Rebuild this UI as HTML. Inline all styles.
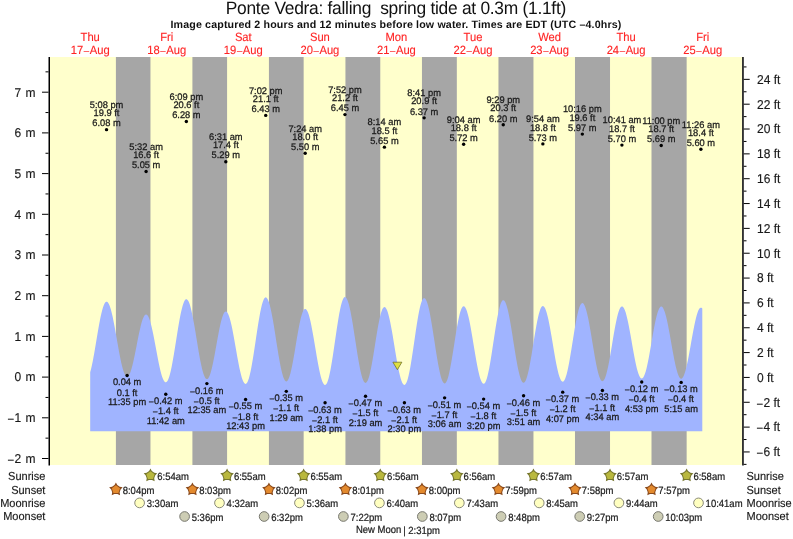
<!DOCTYPE html><html><head><meta charset="utf-8"><title>Ponte Vedra tide chart</title><style>html,body{margin:0;padding:0;background:#fff;width:793px;height:539px;overflow:hidden}svg{display:block;will-change:transform}</style></head><body><svg width="793" height="539" viewBox="0 0 793 539" font-family="'Liberation Sans', Arial, sans-serif" text-rendering="geometricPrecision"><rect x="0" y="0" width="793" height="539" fill="#fff"/><rect x="50" y="57" width="692" height="408" fill="#ffffcc"/><rect x="115.90" y="57" width="34.56" height="408" fill="#a6a6a6"/><rect x="192.41" y="57" width="34.67" height="408" fill="#a6a6a6"/><rect x="268.93" y="57" width="34.72" height="408" fill="#a6a6a6"/><rect x="345.44" y="57" width="34.83" height="408" fill="#a6a6a6"/><rect x="421.95" y="57" width="34.88" height="408" fill="#a6a6a6"/><rect x="498.47" y="57" width="34.99" height="408" fill="#a6a6a6"/><rect x="574.98" y="57" width="35.04" height="408" fill="#a6a6a6"/><rect x="651.50" y="57" width="35.15" height="408" fill="#a6a6a6"/><path d="M90.20,431.30 L90.20,372.31 L91.00,369.29 L91.80,365.83 L92.59,362.00 L93.39,357.84 L94.19,353.41 L94.99,348.80 L95.79,344.06 L96.58,339.27 L97.38,334.50 L98.18,329.82 L98.98,325.31 L99.78,321.02 L100.57,317.04 L101.37,313.41 L102.17,310.20 L102.97,307.44 L103.77,305.19 L104.56,303.47 L105.36,302.32 L106.16,301.74 L106.96,301.75 L107.76,302.32 L108.56,303.43 L109.35,305.08 L110.15,307.22 L110.95,309.85 L111.75,312.90 L112.55,316.35 L113.34,320.13 L114.14,324.19 L114.94,328.48 L115.74,332.92 L116.54,337.46 L117.33,342.02 L118.13,346.54 L118.93,350.95 L119.73,355.18 L120.53,359.18 L121.32,362.88 L122.12,366.22 L122.92,369.17 L123.72,371.67 L124.52,373.69 L125.31,375.19 L126.11,376.16 L126.91,376.58 L127.71,376.46 L128.51,375.79 L129.30,374.59 L130.10,372.89 L130.90,370.71 L131.70,368.09 L132.50,365.08 L133.29,361.73 L134.09,358.10 L134.89,354.25 L135.69,350.24 L136.49,346.16 L137.28,342.06 L138.08,338.02 L138.88,334.12 L139.68,330.41 L140.48,326.97 L141.27,323.85 L142.07,321.10 L142.87,318.79 L143.67,316.93 L144.47,315.58 L145.27,314.75 L146.06,314.45 L146.86,314.70 L147.66,315.50 L148.46,316.83 L149.26,318.67 L150.05,320.99 L150.85,323.76 L151.65,326.92 L152.45,330.44 L153.25,334.24 L154.04,338.28 L154.84,342.48 L155.64,346.77 L156.44,351.09 L157.24,355.37 L158.03,359.53 L158.83,363.51 L159.63,367.25 L160.43,370.68 L161.23,373.75 L162.02,376.41 L162.82,378.61 L163.62,380.32 L164.42,381.52 L165.22,382.18 L166.01,382.28 L166.81,381.79 L167.61,380.69 L168.41,378.99 L169.21,376.73 L170.00,373.94 L170.80,370.65 L171.60,366.92 L172.40,362.80 L173.20,358.36 L173.99,353.65 L174.79,348.76 L175.59,343.74 L176.39,338.68 L177.19,333.65 L177.98,328.73 L178.78,323.98 L179.58,319.49 L180.38,315.30 L181.18,311.50 L181.98,308.13 L182.77,305.24 L183.57,302.88 L184.37,301.08 L185.17,299.87 L185.97,299.27 L186.76,299.27 L187.56,299.88 L188.36,301.07 L189.16,302.82 L189.96,305.12 L190.75,307.93 L191.55,311.19 L192.35,314.88 L193.15,318.93 L193.95,323.28 L194.74,327.86 L195.54,332.62 L196.34,337.47 L197.14,342.34 L197.94,347.17 L198.73,351.88 L199.53,356.40 L200.33,360.66 L201.13,364.60 L201.93,368.16 L202.72,371.29 L203.52,373.94 L204.32,376.07 L205.12,377.65 L205.92,378.66 L206.71,379.07 L207.51,378.90 L208.31,378.13 L209.11,376.79 L209.91,374.90 L210.70,372.48 L211.50,369.60 L212.30,366.28 L213.10,362.60 L213.90,358.61 L214.69,354.40 L215.49,350.02 L216.29,345.55 L217.09,341.09 L217.89,336.69 L218.69,332.45 L219.48,328.43 L220.28,324.71 L221.08,321.35 L221.88,318.40 L222.68,315.93 L223.47,313.97 L224.27,312.56 L225.07,311.73 L225.87,311.48 L226.67,311.81 L227.46,312.73 L228.26,314.20 L229.06,316.21 L229.86,318.73 L230.66,321.71 L231.45,325.10 L232.25,328.86 L233.05,332.93 L233.85,337.23 L234.65,341.69 L235.44,346.26 L236.24,350.85 L237.04,355.38 L237.84,359.80 L238.64,364.02 L239.43,367.97 L240.23,371.60 L241.03,374.85 L241.83,377.67 L242.63,380.00 L243.42,381.81 L244.22,383.08 L245.02,383.78 L245.82,383.89 L246.62,383.36 L247.41,382.17 L248.21,380.34 L249.01,377.89 L249.81,374.87 L250.61,371.32 L251.40,367.29 L252.20,362.85 L253.00,358.07 L253.80,353.02 L254.60,347.77 L255.40,342.42 L256.19,337.04 L256.99,331.71 L257.79,326.52 L258.59,321.55 L259.39,316.88 L260.18,312.57 L260.98,308.69 L261.78,305.31 L262.58,302.48 L263.38,300.23 L264.17,298.61 L264.97,297.64 L265.77,297.33 L266.57,297.67 L267.37,298.63 L268.16,300.19 L268.96,302.33 L269.76,305.02 L270.56,308.22 L271.36,311.88 L272.15,315.95 L272.95,320.37 L273.75,325.07 L274.55,329.98 L275.35,335.04 L276.14,340.15 L276.94,345.26 L277.74,350.27 L278.54,355.13 L279.34,359.75 L280.13,364.07 L280.93,368.03 L281.73,371.56 L282.53,374.61 L283.33,377.14 L284.12,379.11 L284.92,380.50 L285.72,381.27 L286.52,381.42 L287.32,380.94 L288.11,379.82 L288.91,378.10 L289.71,375.79 L290.51,372.95 L291.31,369.62 L292.11,365.85 L292.90,361.72 L293.70,357.30 L294.50,352.67 L295.30,347.90 L296.10,343.08 L296.89,338.30 L297.69,333.64 L298.49,329.19 L299.29,325.01 L300.09,321.19 L300.88,317.80 L301.68,314.88 L302.48,312.50 L303.28,310.69 L304.08,309.49 L304.87,308.92 L305.67,308.98 L306.47,309.64 L307.27,310.90 L308.07,312.73 L308.86,315.10 L309.66,317.97 L310.46,321.31 L311.26,325.04 L312.06,329.13 L312.85,333.50 L313.65,338.08 L314.45,342.80 L315.25,347.59 L316.05,352.36 L316.84,357.05 L317.64,361.58 L318.44,365.87 L319.24,369.86 L320.04,373.49 L320.83,376.70 L321.63,379.43 L322.43,381.64 L323.23,383.31 L324.03,384.39 L324.83,384.89 L325.62,384.75 L326.42,383.93 L327.22,382.42 L328.02,380.26 L328.82,377.47 L329.61,374.11 L330.41,370.22 L331.21,365.86 L332.01,361.11 L332.81,356.05 L333.60,350.74 L334.40,345.28 L335.20,339.75 L336.00,334.24 L336.80,328.84 L337.59,323.63 L338.39,318.69 L339.19,314.11 L339.99,309.96 L340.79,306.30 L341.58,303.19 L342.38,300.68 L343.18,298.81 L343.98,297.61 L344.78,297.10 L345.57,297.27 L346.37,298.08 L347.17,299.50 L347.97,301.53 L348.77,304.12 L349.56,307.25 L350.36,310.86 L351.16,314.91 L351.96,319.33 L352.76,324.05 L353.55,329.02 L354.35,334.14 L355.15,339.35 L355.95,344.57 L356.75,349.73 L357.54,354.73 L358.34,359.53 L359.14,364.03 L359.94,368.17 L360.74,371.90 L361.54,375.16 L362.33,377.89 L363.13,380.06 L363.93,381.64 L364.73,382.60 L365.53,382.93 L366.32,382.61 L367.12,381.62 L367.92,379.99 L368.72,377.74 L369.52,374.92 L370.31,371.57 L371.11,367.74 L371.91,363.52 L372.71,358.97 L373.51,354.18 L374.30,349.22 L375.10,344.19 L375.90,339.17 L376.70,334.25 L377.50,329.52 L378.29,325.06 L379.09,320.96 L379.89,317.28 L380.69,314.08 L381.49,311.43 L382.28,309.37 L383.08,307.94 L383.88,307.16 L384.68,307.04 L385.48,307.55 L386.27,308.66 L387.07,310.35 L387.87,312.61 L388.67,315.39 L389.47,318.65 L390.26,322.34 L391.06,326.40 L391.86,330.76 L392.66,335.37 L393.46,340.14 L394.25,345.00 L395.05,349.88 L395.85,354.70 L396.65,359.38 L397.45,363.84 L398.25,368.03 L399.04,371.87 L399.84,375.31 L400.64,378.28 L401.44,380.75 L402.24,382.67 L403.03,384.01 L403.83,384.76 L404.63,384.89 L405.43,384.34 L406.23,383.11 L407.02,381.20 L407.82,378.66 L408.62,375.51 L409.42,371.81 L410.22,367.63 L411.01,363.03 L411.81,358.07 L412.61,352.85 L413.41,347.45 L414.21,341.95 L415.00,336.44 L415.80,331.02 L416.60,325.76 L417.40,320.76 L418.20,316.09 L418.99,311.83 L419.79,308.05 L420.59,304.81 L421.39,302.16 L422.19,300.15 L422.98,298.80 L423.78,298.15 L424.58,298.18 L425.38,298.85 L426.18,300.15 L426.97,302.07 L427.77,304.56 L428.57,307.59 L429.37,311.12 L430.17,315.09 L430.96,319.45 L431.76,324.13 L432.56,329.05 L433.36,334.16 L434.16,339.36 L434.96,344.58 L435.75,349.74 L436.55,354.77 L437.35,359.59 L438.15,364.13 L438.95,368.31 L439.74,372.09 L440.54,375.39 L441.34,378.18 L442.14,380.40 L442.94,382.03 L443.73,383.05 L444.53,383.42 L445.33,383.15 L446.13,382.21 L446.93,380.63 L447.72,378.42 L448.52,375.63 L449.32,372.31 L450.12,368.51 L450.92,364.30 L451.71,359.75 L452.51,354.94 L453.31,349.96 L454.11,344.88 L454.91,339.81 L455.70,334.82 L456.50,330.00 L457.30,325.44 L458.10,321.21 L458.90,317.40 L459.69,314.05 L460.49,311.24 L461.29,309.01 L462.09,307.40 L462.89,306.44 L463.68,306.14 L464.48,306.48 L465.28,307.42 L466.08,308.95 L466.88,311.05 L467.67,313.68 L468.47,316.80 L469.27,320.37 L470.07,324.32 L470.87,328.59 L471.67,333.13 L472.46,337.84 L473.26,342.67 L474.06,347.54 L474.86,352.37 L475.66,357.08 L476.45,361.60 L477.25,365.85 L478.05,369.78 L478.85,373.32 L479.65,376.42 L480.44,379.02 L481.24,381.09 L482.04,382.59 L482.84,383.50 L483.64,383.80 L484.43,383.46 L485.23,382.44 L486.03,380.76 L486.83,378.45 L487.63,375.54 L488.42,372.09 L489.22,368.15 L490.02,363.78 L490.82,359.06 L491.62,354.05 L492.41,348.85 L493.21,343.54 L494.01,338.21 L494.81,332.93 L495.61,327.80 L496.40,322.91 L497.20,318.32 L498.00,314.13 L498.80,310.38 L499.60,307.15 L500.39,304.49 L501.19,302.44 L501.99,301.04 L502.79,300.30 L503.59,300.24 L504.39,300.82 L505.18,302.01 L505.98,303.81 L506.78,306.17 L507.58,309.08 L508.38,312.48 L509.17,316.32 L509.97,320.55 L510.77,325.09 L511.57,329.88 L512.37,334.85 L513.16,339.92 L513.96,345.02 L514.76,350.06 L515.56,354.97 L516.36,359.67 L517.15,364.10 L517.95,368.19 L518.75,371.87 L519.55,375.08 L520.35,377.79 L521.14,379.94 L521.94,381.51 L522.74,382.47 L523.54,382.81 L524.34,382.51 L525.13,381.56 L525.93,379.99 L526.73,377.83 L527.53,375.09 L528.33,371.85 L529.12,368.14 L529.92,364.03 L530.72,359.58 L531.52,354.89 L532.32,350.02 L533.11,345.05 L533.91,340.07 L534.71,335.17 L535.51,330.42 L536.31,325.90 L537.10,321.70 L537.90,317.88 L538.70,314.51 L539.50,311.64 L540.30,309.33 L541.10,307.60 L541.89,306.50 L542.69,306.03 L543.49,306.20 L544.29,306.97 L545.09,308.33 L545.88,310.25 L546.68,312.71 L547.48,315.67 L548.28,319.08 L549.08,322.88 L549.87,327.02 L550.67,331.43 L551.47,336.03 L552.27,340.76 L553.07,345.54 L553.86,350.30 L554.66,354.94 L555.46,359.42 L556.26,363.64 L557.06,367.55 L557.85,371.08 L558.65,374.17 L559.45,376.79 L560.25,378.87 L561.05,380.40 L561.84,381.34 L562.64,381.69 L563.44,381.41 L564.24,380.50 L565.04,378.97 L565.83,376.84 L566.63,374.15 L567.43,370.94 L568.23,367.26 L569.03,363.18 L569.82,358.76 L570.62,354.07 L571.42,349.19 L572.22,344.20 L573.02,339.18 L573.81,334.21 L574.61,329.37 L575.41,324.75 L576.21,320.41 L577.01,316.43 L577.81,312.88 L578.60,309.80 L579.40,307.26 L580.20,305.29 L581.00,303.92 L581.80,303.18 L582.59,303.07 L583.39,303.59 L584.19,304.69 L584.99,306.39 L585.79,308.63 L586.58,311.40 L587.38,314.64 L588.18,318.31 L588.98,322.35 L589.78,326.70 L590.57,331.29 L591.37,336.04 L592.17,340.89 L592.97,345.76 L593.77,350.58 L594.56,355.26 L595.36,359.73 L596.16,363.94 L596.96,367.80 L597.76,371.26 L598.55,374.28 L599.35,376.79 L600.15,378.76 L600.95,380.17 L601.75,380.98 L602.54,381.19 L603.34,380.78 L604.14,379.77 L604.94,378.16 L605.74,375.99 L606.53,373.28 L607.33,370.09 L608.13,366.47 L608.93,362.47 L609.73,358.16 L610.52,353.62 L611.32,348.91 L612.12,344.13 L612.92,339.33 L613.72,334.61 L614.52,330.04 L615.31,325.70 L616.11,321.65 L616.91,317.97 L617.71,314.72 L618.51,311.94 L619.30,309.69 L620.10,308.00 L620.90,306.91 L621.70,306.42 L622.50,306.53 L623.29,307.23 L624.09,308.49 L624.89,310.30 L625.69,312.62 L626.49,315.42 L627.28,318.66 L628.08,322.28 L628.88,326.22 L629.68,330.42 L630.48,334.82 L631.27,339.34 L632.07,343.91 L632.87,348.46 L633.67,352.92 L634.47,357.20 L635.26,361.25 L636.06,365.00 L636.86,368.39 L637.66,371.36 L638.46,373.87 L639.25,375.87 L640.05,377.34 L640.85,378.25 L641.65,378.59 L642.45,378.34 L643.24,377.50 L644.04,376.08 L644.84,374.12 L645.64,371.63 L646.44,368.66 L647.23,365.26 L648.03,361.49 L648.83,357.41 L649.63,353.08 L650.43,348.57 L651.23,343.97 L652.02,339.35 L652.82,334.77 L653.62,330.33 L654.42,326.09 L655.22,322.12 L656.01,318.48 L656.81,315.24 L657.61,312.45 L658.41,310.16 L659.21,308.40 L660.00,307.21 L660.80,306.60 L661.60,306.57 L662.40,307.12 L663.20,308.24 L663.99,309.89 L664.79,312.06 L665.59,314.71 L666.39,317.80 L667.19,321.29 L667.98,325.11 L668.78,329.21 L669.58,333.52 L670.38,337.97 L671.18,342.49 L671.97,347.02 L672.77,351.48 L673.57,355.80 L674.37,359.91 L675.17,363.75 L675.96,367.25 L676.76,370.36 L677.56,373.04 L678.36,375.24 L679.16,376.92 L679.95,378.06 L680.75,378.64 L681.55,378.65 L682.35,378.08 L683.15,376.96 L683.94,375.29 L684.74,373.10 L685.54,370.43 L686.34,367.32 L687.14,363.82 L687.94,359.99 L688.73,355.88 L689.53,351.57 L690.33,347.13 L691.13,342.62 L691.93,338.12 L692.72,333.70 L693.52,329.44 L694.32,325.39 L695.12,321.63 L695.92,318.22 L696.71,315.22 L697.51,312.66 L698.31,310.60 L699.11,309.06 L699.91,308.07 L700.70,307.65 L701.50,307.79 L702.30,308.50 L702.30,431.30 Z" fill="#a0b4ff"/><rect x="48.5" y="57" width="1.5" height="408.5" fill="#000"/><rect x="742.2" y="57" width="1.5" height="408.5" fill="#000"/><path d="M42.0,458.50H48.5M45.5,438.15H48.5M42.0,417.80H48.5M45.5,397.45H48.5M42.0,377.10H48.5M45.5,356.75H48.5M42.0,336.40H48.5M45.5,316.05H48.5M42.0,295.70H48.5M45.5,275.35H48.5M42.0,255.00H48.5M45.5,234.65H48.5M42.0,214.30H48.5M45.5,193.95H48.5M42.0,173.60H48.5M45.5,153.25H48.5M42.0,132.90H48.5M45.5,112.55H48.5M42.0,92.20H48.5M45.5,71.85H48.5M743.7,464.37H746.5M743.7,451.95H749.7M743.7,439.53H746.5M743.7,427.11H749.7M743.7,414.69H746.5M743.7,402.27H749.7M743.7,389.85H746.5M743.7,377.43H749.7M743.7,365.01H746.5M743.7,352.59H749.7M743.7,340.17H746.5M743.7,327.75H749.7M743.7,315.33H746.5M743.7,302.91H749.7M743.7,290.49H746.5M743.7,278.07H749.7M743.7,265.65H746.5M743.7,253.23H749.7M743.7,240.81H746.5M743.7,228.39H749.7M743.7,215.97H746.5M743.7,203.55H749.7M743.7,191.13H746.5M743.7,178.71H749.7M743.7,166.29H746.5M743.7,153.87H749.7M743.7,141.45H746.5M743.7,129.03H749.7M743.7,116.61H746.5M743.7,104.19H749.7M743.7,91.77H746.5M743.7,79.35H749.7M743.7,66.93H746.5" stroke="#000" stroke-width="1" fill="none"/><g font-size="12" fill="#1a1a1a" stroke="#1a1a1a" stroke-width="0.15"><text word-spacing="1" x="35.5" y="462.8" text-anchor="end" transform="matrix(1 0 0 1.070 0 -32.396)"><tspan font-size="10.08">–</tspan><tspan dx="0.80">2</tspan> m</text><text word-spacing="1" x="35.5" y="422.1" text-anchor="end" transform="matrix(1 0 0 1.070 0 -29.547)"><tspan font-size="10.08">–</tspan><tspan dx="0.80">1</tspan> m</text><text word-spacing="1" x="35.5" y="381.4" text-anchor="end" transform="matrix(1 0 0 1.070 0 -26.698)">0 m</text><text word-spacing="1" x="35.5" y="340.7" text-anchor="end" transform="matrix(1 0 0 1.070 0 -23.849)">1 m</text><text word-spacing="1" x="35.5" y="300.0" text-anchor="end" transform="matrix(1 0 0 1.070 0 -21.000)">2 m</text><text word-spacing="1" x="35.5" y="259.3" text-anchor="end" transform="matrix(1 0 0 1.070 0 -18.151)">3 m</text><text word-spacing="1" x="35.5" y="218.6" text-anchor="end" transform="matrix(1 0 0 1.070 0 -15.302)">4 m</text><text word-spacing="1" x="35.5" y="177.9" text-anchor="end" transform="matrix(1 0 0 1.070 0 -12.453)">5 m</text><text word-spacing="1" x="35.5" y="137.2" text-anchor="end" transform="matrix(1 0 0 1.070 0 -9.604)">6 m</text><text word-spacing="1" x="35.5" y="96.5" text-anchor="end" transform="matrix(1 0 0 1.070 0 -6.755)">7 m</text><text x="757" y="456.3" transform="matrix(1 0 0 1.070 0 -31.941)"><tspan font-size="10.08">–</tspan><tspan dx="0.80">6</tspan> ft</text><text x="757" y="431.4" transform="matrix(1 0 0 1.070 0 -30.198)"><tspan font-size="10.08">–</tspan><tspan dx="0.80">4</tspan> ft</text><text x="757" y="406.6" transform="matrix(1 0 0 1.070 0 -28.462)"><tspan font-size="10.08">–</tspan><tspan dx="0.80">2</tspan> ft</text><text x="757" y="381.7" transform="matrix(1 0 0 1.070 0 -26.719)">0 ft</text><text x="757" y="356.9" transform="matrix(1 0 0 1.070 0 -24.983)">2 ft</text><text x="757" y="332.1" transform="matrix(1 0 0 1.070 0 -23.247)">4 ft</text><text x="757" y="307.2" transform="matrix(1 0 0 1.070 0 -21.504)">6 ft</text><text x="757" y="282.4" transform="matrix(1 0 0 1.070 0 -19.768)">8 ft</text><text x="757" y="257.5" transform="matrix(1 0 0 1.070 0 -18.025)">10 ft</text><text x="757" y="232.7" transform="matrix(1 0 0 1.070 0 -16.289)">12 ft</text><text x="757" y="207.9" transform="matrix(1 0 0 1.070 0 -14.553)">14 ft</text><text x="757" y="183.0" transform="matrix(1 0 0 1.070 0 -12.810)">16 ft</text><text x="757" y="158.2" transform="matrix(1 0 0 1.070 0 -11.074)">18 ft</text><text x="757" y="133.3" transform="matrix(1 0 0 1.070 0 -9.331)">20 ft</text><text x="757" y="108.5" transform="matrix(1 0 0 1.070 0 -7.595)">22 ft</text><text x="757" y="83.6" transform="matrix(1 0 0 1.070 0 -5.852)">24 ft</text></g><text x="225.77" y="14.5" font-size="17.4" fill="#111" style="white-space:pre" textLength="340.51" lengthAdjust="spacing" transform="matrix(1 0 0 1.030 0 -0.435)">Ponte Vedra: falling  spring tide at 0.3m (1.1ft)</text><text x="170.49" y="28.2" font-size="10.67" font-weight="bold" fill="#111" textLength="450.85" lengthAdjust="spacing">Image captured 2 hours and 12 minutes before low water. Times are EDT (UTC –4.0hrs)</text><g font-size="11.2" fill="#ff2424" stroke="#ff2424" stroke-width="0.12" text-anchor="middle"><text x="90.2" y="41.3" transform="matrix(1 0 0 1.070 0 -2.891)">Thu</text><text x="90.2" y="53.5" transform="matrix(1 0 0 1.070 0 -3.745)">17<tspan dx="0.6" font-size="9.6">–</tspan><tspan dx="0.6">Aug</tspan></text><text x="166.7" y="41.3" transform="matrix(1 0 0 1.070 0 -2.891)">Fri</text><text x="166.7" y="53.5" transform="matrix(1 0 0 1.070 0 -3.745)">18<tspan dx="0.6" font-size="9.6">–</tspan><tspan dx="0.6">Aug</tspan></text><text x="243.3" y="41.3" transform="matrix(1 0 0 1.070 0 -2.891)">Sat</text><text x="243.3" y="53.5" transform="matrix(1 0 0 1.070 0 -3.745)">19<tspan dx="0.6" font-size="9.6">–</tspan><tspan dx="0.6">Aug</tspan></text><text x="319.9" y="41.3" transform="matrix(1 0 0 1.070 0 -2.891)">Sun</text><text x="319.9" y="53.5" transform="matrix(1 0 0 1.070 0 -3.745)">20<tspan dx="0.6" font-size="9.6">–</tspan><tspan dx="0.6">Aug</tspan></text><text x="396.4" y="41.3" transform="matrix(1 0 0 1.070 0 -2.891)">Mon</text><text x="396.4" y="53.5" transform="matrix(1 0 0 1.070 0 -3.745)">21<tspan dx="0.6" font-size="9.6">–</tspan><tspan dx="0.6">Aug</tspan></text><text x="473.0" y="41.3" transform="matrix(1 0 0 1.070 0 -2.891)">Tue</text><text x="473.0" y="53.5" transform="matrix(1 0 0 1.070 0 -3.745)">22<tspan dx="0.6" font-size="9.6">–</tspan><tspan dx="0.6">Aug</tspan></text><text x="549.6" y="41.3" transform="matrix(1 0 0 1.070 0 -2.891)">Wed</text><text x="549.6" y="53.5" transform="matrix(1 0 0 1.070 0 -3.745)">23<tspan dx="0.6" font-size="9.6">–</tspan><tspan dx="0.6">Aug</tspan></text><text x="626.1" y="41.3" transform="matrix(1 0 0 1.070 0 -2.891)">Thu</text><text x="626.1" y="53.5" transform="matrix(1 0 0 1.070 0 -3.745)">24<tspan dx="0.6" font-size="9.6">–</tspan><tspan dx="0.6">Aug</tspan></text><text x="702.7" y="41.3" transform="matrix(1 0 0 1.070 0 -2.891)">Fri</text><text x="702.7" y="53.5" transform="matrix(1 0 0 1.070 0 -3.745)">25<tspan dx="0.6" font-size="9.6">–</tspan><tspan dx="0.6">Aug</tspan></text></g><g font-size="9.3" fill="#1a1a1a" stroke="#1a1a1a" stroke-width="0.25" text-anchor="middle"><text x="106.54" y="107.9" transform="matrix(1 0 0 1.030 0 -3.237)">5:08 pm</text><text x="106.54" y="116.2" transform="matrix(1 0 0 1.030 0 -3.486)">19.9 ft</text><text x="106.54" y="126.3" transform="matrix(1 0 0 1.030 0 -3.789)">6.08 m</text><text x="146.10" y="149.9" transform="matrix(1 0 0 1.030 0 -4.497)">5:32 am</text><text x="146.10" y="158.2" transform="matrix(1 0 0 1.030 0 -4.746)">16.6 ft</text><text x="146.10" y="168.3" transform="matrix(1 0 0 1.030 0 -5.049)">5.05 m</text><text x="186.35" y="99.8" transform="matrix(1 0 0 1.030 0 -2.994)">6:09 pm</text><text x="186.35" y="108.1" transform="matrix(1 0 0 1.030 0 -3.243)">20.6 ft</text><text x="186.35" y="118.2" transform="matrix(1 0 0 1.030 0 -3.546)">6.28 m</text><text x="225.80" y="140.1" transform="matrix(1 0 0 1.030 0 -4.203)">6:31 am</text><text x="225.80" y="148.4" transform="matrix(1 0 0 1.030 0 -4.452)">17.4 ft</text><text x="225.80" y="158.5" transform="matrix(1 0 0 1.030 0 -4.755)">5.29 m</text><text x="265.74" y="93.7" transform="matrix(1 0 0 1.030 0 -2.811)">7:02 pm</text><text x="265.74" y="102.0" transform="matrix(1 0 0 1.030 0 -3.060)">21.1 ft</text><text x="265.74" y="112.1" transform="matrix(1 0 0 1.030 0 -3.363)">6.43 m</text><text x="305.19" y="131.6" transform="matrix(1 0 0 1.030 0 -3.948)">7:24 am</text><text x="305.19" y="139.8" transform="matrix(1 0 0 1.030 0 -4.194)">18.0 ft</text><text x="305.19" y="149.9" transform="matrix(1 0 0 1.030 0 -4.497)">5.50 m</text><text x="344.96" y="92.9" transform="matrix(1 0 0 1.030 0 -2.787)">7:52 pm</text><text x="344.96" y="101.2" transform="matrix(1 0 0 1.030 0 -3.036)">21.2 ft</text><text x="344.96" y="111.3" transform="matrix(1 0 0 1.030 0 -3.339)">6.45 m</text><text x="384.42" y="125.4" transform="matrix(1 0 0 1.030 0 -3.762)">8:14 am</text><text x="384.42" y="133.7" transform="matrix(1 0 0 1.030 0 -4.011)">18.5 ft</text><text x="384.42" y="143.8" transform="matrix(1 0 0 1.030 0 -4.314)">5.65 m</text><text x="424.13" y="96.1" transform="matrix(1 0 0 1.030 0 -2.883)">8:41 pm</text><text x="424.13" y="104.4" transform="matrix(1 0 0 1.030 0 -3.132)">20.9 ft</text><text x="424.13" y="114.5" transform="matrix(1 0 0 1.030 0 -3.435)">6.37 m</text><text x="463.64" y="122.6" transform="matrix(1 0 0 1.030 0 -3.678)">9:04 am</text><text x="463.64" y="130.9" transform="matrix(1 0 0 1.030 0 -3.927)">18.8 ft</text><text x="463.64" y="141.0" transform="matrix(1 0 0 1.030 0 -4.230)">5.72 m</text><text x="503.25" y="103.1" transform="matrix(1 0 0 1.030 0 -3.093)">9:29 pm</text><text x="503.25" y="111.4" transform="matrix(1 0 0 1.030 0 -3.342)">20.3 ft</text><text x="503.25" y="121.5" transform="matrix(1 0 0 1.030 0 -3.645)">6.20 m</text><text x="542.87" y="122.2" transform="matrix(1 0 0 1.030 0 -3.666)">9:54 am</text><text x="542.87" y="130.5" transform="matrix(1 0 0 1.030 0 -3.915)">18.8 ft</text><text x="542.87" y="140.6" transform="matrix(1 0 0 1.030 0 -4.218)">5.73 m</text><text x="582.32" y="112.4" transform="matrix(1 0 0 1.030 0 -3.372)">10:16 pm</text><text x="582.32" y="120.7" transform="matrix(1 0 0 1.030 0 -3.621)">19.6 ft</text><text x="582.32" y="130.8" transform="matrix(1 0 0 1.030 0 -3.924)">5.97 m</text><text x="621.93" y="123.4" transform="matrix(1 0 0 1.030 0 -3.702)">10:41 am</text><text x="621.93" y="131.7" transform="matrix(1 0 0 1.030 0 -3.951)">18.7 ft</text><text x="621.93" y="141.8" transform="matrix(1 0 0 1.030 0 -4.254)">5.70 m</text><text x="661.23" y="123.8" transform="matrix(1 0 0 1.030 0 -3.714)">11:00 pm</text><text x="661.23" y="132.1" transform="matrix(1 0 0 1.030 0 -3.963)">18.7 ft</text><text x="661.23" y="142.2" transform="matrix(1 0 0 1.030 0 -4.266)">5.69 m</text><text x="700.89" y="127.5" transform="matrix(1 0 0 1.030 0 -3.825)">11:26 am</text><text x="700.89" y="135.8" transform="matrix(1 0 0 1.030 0 -4.074)">18.4 ft</text><text x="700.89" y="145.9" transform="matrix(1 0 0 1.030 0 -4.377)">5.60 m</text><text x="127.12" y="385.4" transform="matrix(1 0 0 1.030 0 -11.562)">0.04 m</text><text x="127.12" y="395.6" transform="matrix(1 0 0 1.030 0 -11.868)">0.1 ft</text><text x="127.12" y="405.1" transform="matrix(1 0 0 1.030 0 -12.153)">11:35 pm</text><text x="165.77" y="404.1" transform="matrix(1 0 0 1.030 0 -12.123)"><tspan font-size="8.00">–</tspan><tspan dx="0.45">0.42</tspan> m</text><text x="165.77" y="414.3" transform="matrix(1 0 0 1.030 0 -12.429)"><tspan font-size="8.00">–</tspan><tspan dx="0.45">1.4</tspan> ft</text><text x="165.77" y="423.8" transform="matrix(1 0 0 1.030 0 -12.714)">11:42 am</text><text x="206.88" y="393.5" transform="matrix(1 0 0 1.030 0 -11.805)"><tspan font-size="8.00">–</tspan><tspan dx="0.45">0.16</tspan> m</text><text x="206.88" y="403.7" transform="matrix(1 0 0 1.030 0 -12.111)"><tspan font-size="8.00">–</tspan><tspan dx="0.45">0.5</tspan> ft</text><text x="206.88" y="413.2" transform="matrix(1 0 0 1.030 0 -12.396)">12:35 am</text><text x="245.58" y="409.4" transform="matrix(1 0 0 1.030 0 -12.282)"><tspan font-size="8.00">–</tspan><tspan dx="0.45">0.55</tspan> m</text><text x="245.58" y="419.6" transform="matrix(1 0 0 1.030 0 -12.588)"><tspan font-size="8.00">–</tspan><tspan dx="0.45">1.8</tspan> ft</text><text x="245.58" y="429.1" transform="matrix(1 0 0 1.030 0 -12.873)">12:43 pm</text><text x="286.31" y="401.2" transform="matrix(1 0 0 1.030 0 -12.036)"><tspan font-size="8.00">–</tspan><tspan dx="0.45">0.35</tspan> m</text><text x="286.31" y="411.4" transform="matrix(1 0 0 1.030 0 -12.342)"><tspan font-size="8.00">–</tspan><tspan dx="0.45">1.1</tspan> ft</text><text x="286.31" y="420.9" transform="matrix(1 0 0 1.030 0 -12.627)">1:29 am</text><text x="325.08" y="412.6" transform="matrix(1 0 0 1.030 0 -12.378)"><tspan font-size="8.00">–</tspan><tspan dx="0.45">0.63</tspan> m</text><text x="325.08" y="422.8" transform="matrix(1 0 0 1.030 0 -12.684)"><tspan font-size="8.00">–</tspan><tspan dx="0.45">2.1</tspan> ft</text><text x="325.08" y="432.3" transform="matrix(1 0 0 1.030 0 -12.969)">1:38 pm</text><text x="365.54" y="406.1" transform="matrix(1 0 0 1.030 0 -12.183)"><tspan font-size="8.00">–</tspan><tspan dx="0.45">0.47</tspan> m</text><text x="365.54" y="416.3" transform="matrix(1 0 0 1.030 0 -12.489)"><tspan font-size="8.00">–</tspan><tspan dx="0.45">1.5</tspan> ft</text><text x="365.54" y="425.8" transform="matrix(1 0 0 1.030 0 -12.774)">2:19 am</text><text x="404.41" y="412.6" transform="matrix(1 0 0 1.030 0 -12.378)"><tspan font-size="8.00">–</tspan><tspan dx="0.45">0.63</tspan> m</text><text x="404.41" y="422.8" transform="matrix(1 0 0 1.030 0 -12.684)"><tspan font-size="8.00">–</tspan><tspan dx="0.45">2.1</tspan> ft</text><text x="404.41" y="432.3" transform="matrix(1 0 0 1.030 0 -12.969)">2:30 pm</text><text x="444.61" y="407.8" transform="matrix(1 0 0 1.030 0 -12.234)"><tspan font-size="8.00">–</tspan><tspan dx="0.45">0.51</tspan> m</text><text x="444.61" y="418.0" transform="matrix(1 0 0 1.030 0 -12.540)"><tspan font-size="8.00">–</tspan><tspan dx="0.45">1.7</tspan> ft</text><text x="444.61" y="427.5" transform="matrix(1 0 0 1.030 0 -12.825)">3:06 am</text><text x="483.63" y="409.0" transform="matrix(1 0 0 1.030 0 -12.270)"><tspan font-size="8.00">–</tspan><tspan dx="0.45">0.54</tspan> m</text><text x="483.63" y="419.2" transform="matrix(1 0 0 1.030 0 -12.576)"><tspan font-size="8.00">–</tspan><tspan dx="0.45">1.8</tspan> ft</text><text x="483.63" y="428.7" transform="matrix(1 0 0 1.030 0 -12.861)">3:20 pm</text><text x="523.57" y="405.7" transform="matrix(1 0 0 1.030 0 -12.171)"><tspan font-size="8.00">–</tspan><tspan dx="0.45">0.46</tspan> m</text><text x="523.57" y="415.9" transform="matrix(1 0 0 1.030 0 -12.477)"><tspan font-size="8.00">–</tspan><tspan dx="0.45">1.5</tspan> ft</text><text x="523.57" y="425.4" transform="matrix(1 0 0 1.030 0 -12.762)">3:51 am</text><text x="562.70" y="402.1" transform="matrix(1 0 0 1.030 0 -12.063)"><tspan font-size="8.00">–</tspan><tspan dx="0.45">0.37</tspan> m</text><text x="562.70" y="412.3" transform="matrix(1 0 0 1.030 0 -12.369)"><tspan font-size="8.00">–</tspan><tspan dx="0.45">1.2</tspan> ft</text><text x="562.70" y="421.8" transform="matrix(1 0 0 1.030 0 -12.654)">4:07 pm</text><text x="602.42" y="400.4" transform="matrix(1 0 0 1.030 0 -12.012)"><tspan font-size="8.00">–</tspan><tspan dx="0.45">0.33</tspan> m</text><text x="602.42" y="410.6" transform="matrix(1 0 0 1.030 0 -12.318)"><tspan font-size="8.00">–</tspan><tspan dx="0.45">1.1</tspan> ft</text><text x="602.42" y="420.1" transform="matrix(1 0 0 1.030 0 -12.603)">4:34 am</text><text x="641.71" y="391.9" transform="matrix(1 0 0 1.030 0 -11.757)"><tspan font-size="8.00">–</tspan><tspan dx="0.45">0.12</tspan> m</text><text x="641.71" y="402.1" transform="matrix(1 0 0 1.030 0 -12.063)"><tspan font-size="8.00">–</tspan><tspan dx="0.45">0.4</tspan> ft</text><text x="641.71" y="411.6" transform="matrix(1 0 0 1.030 0 -12.348)">4:53 pm</text><text x="681.17" y="392.3" transform="matrix(1 0 0 1.030 0 -11.769)"><tspan font-size="8.00">–</tspan><tspan dx="0.45">0.13</tspan> m</text><text x="681.17" y="402.5" transform="matrix(1 0 0 1.030 0 -12.075)"><tspan font-size="8.00">–</tspan><tspan dx="0.45">0.4</tspan> ft</text><text x="681.17" y="412.0" transform="matrix(1 0 0 1.030 0 -12.360)">5:15 am</text></g><g fill="#000"><circle cx="106.54" cy="129.64" r="1.7"/><circle cx="146.10" cy="171.57" r="1.7"/><circle cx="186.35" cy="121.50" r="1.7"/><circle cx="225.80" cy="161.80" r="1.7"/><circle cx="265.74" cy="115.40" r="1.7"/><circle cx="305.19" cy="153.25" r="1.7"/><circle cx="344.96" cy="114.58" r="1.7"/><circle cx="384.42" cy="147.14" r="1.7"/><circle cx="424.13" cy="117.84" r="1.7"/><circle cx="463.64" cy="144.30" r="1.7"/><circle cx="503.25" cy="124.76" r="1.7"/><circle cx="542.87" cy="143.89" r="1.7"/><circle cx="582.32" cy="134.12" r="1.7"/><circle cx="621.93" cy="145.11" r="1.7"/><circle cx="661.23" cy="145.52" r="1.7"/><circle cx="700.89" cy="149.18" r="1.7"/><circle cx="127.12" cy="375.47" r="1.7"/><circle cx="165.77" cy="394.19" r="1.7"/><circle cx="206.88" cy="383.61" r="1.7"/><circle cx="245.58" cy="399.49" r="1.7"/><circle cx="286.31" cy="391.35" r="1.7"/><circle cx="325.08" cy="402.74" r="1.7"/><circle cx="365.54" cy="396.23" r="1.7"/><circle cx="404.41" cy="402.74" r="1.7"/><circle cx="444.61" cy="397.86" r="1.7"/><circle cx="483.63" cy="399.08" r="1.7"/><circle cx="523.57" cy="395.82" r="1.7"/><circle cx="562.70" cy="392.16" r="1.7"/><circle cx="602.42" cy="390.53" r="1.7"/><circle cx="641.71" cy="381.98" r="1.7"/><circle cx="681.17" cy="382.39" r="1.7"/></g><path d="M392.89,362.2 L401.89,362.2 L397.39,369.7 Z" fill="#e0e040" stroke="#666622" stroke-width="0.7"/><g font-size="11" fill="#1a1a1a" stroke="#1a1a1a" stroke-width="0.15"><text x="45.4" y="480.2" text-anchor="end" transform="matrix(1 0 0 1.050 0 -24.010)">Sunrise</text><text x="746.5" y="480.2" transform="matrix(1 0 0 1.050 0 -24.010)">Sunrise</text><text x="45.4" y="493.7" text-anchor="end" transform="matrix(1 0 0 1.050 0 -24.685)">Sunset</text><text x="746.5" y="493.7" transform="matrix(1 0 0 1.050 0 -24.685)">Sunset</text><text x="45.4" y="507.1" text-anchor="end" transform="matrix(1 0 0 1.050 0 -25.355)">Moonrise</text><text x="746.5" y="507.1" transform="matrix(1 0 0 1.050 0 -25.355)">Moonrise</text><text x="45.4" y="520.3" text-anchor="end" transform="matrix(1 0 0 1.050 0 -26.015)">Moonset</text><text x="746.5" y="520.3" transform="matrix(1 0 0 1.050 0 -26.015)">Moonset</text></g><polygon points="149.09,471.01 150.46,468.40 151.83,471.01 154.31,472.80 157.21,473.31 155.16,475.42 154.21,478.33 154.63,481.24 151.99,479.94 148.93,479.94 146.29,481.24 146.71,478.33 145.76,475.42 143.71,473.31 146.61,472.80" fill="#77772e"/><polygon points="150.46,471.20 154.55,474.17 152.99,478.98 147.93,478.98 146.37,474.17" fill="#b9b83e"/><polygon points="225.71,471.01 227.08,468.40 228.45,471.01 230.93,472.80 233.83,473.31 231.78,475.42 230.83,478.33 231.25,481.24 228.61,479.94 225.55,479.94 222.91,481.24 223.33,478.33 222.38,475.42 220.33,473.31 223.23,472.80" fill="#77772e"/><polygon points="227.08,471.20 231.17,474.17 229.61,478.98 224.55,478.98 222.99,474.17" fill="#b9b83e"/><polygon points="302.27,471.01 303.65,468.40 305.02,471.01 307.50,472.80 310.40,473.31 308.35,475.42 307.40,478.33 307.82,481.24 305.18,479.94 302.12,479.94 299.47,481.24 299.89,478.33 298.95,475.42 296.90,473.31 299.80,472.80" fill="#77772e"/><polygon points="303.65,471.20 307.74,474.17 306.18,478.98 301.12,478.98 299.56,474.17" fill="#b9b83e"/><polygon points="378.89,471.01 380.27,468.40 381.64,471.01 384.12,472.80 387.02,473.31 384.97,475.42 384.02,478.33 384.44,481.24 381.80,479.94 378.74,479.94 376.09,481.24 376.51,478.33 375.57,475.42 373.52,473.31 376.42,472.80" fill="#77772e"/><polygon points="380.27,471.20 384.36,474.17 382.80,478.98 377.74,478.98 376.18,474.17" fill="#b9b83e"/><polygon points="455.46,471.01 456.84,468.40 458.21,471.01 460.69,472.80 463.59,473.31 461.53,475.42 460.59,478.33 461.01,481.24 458.37,479.94 455.31,479.94 452.66,481.24 453.08,478.33 452.14,475.42 450.08,473.31 452.99,472.80" fill="#77772e"/><polygon points="456.84,471.20 460.92,474.17 459.36,478.98 454.31,478.98 452.75,474.17" fill="#b9b83e"/><polygon points="532.08,471.01 533.46,468.40 534.83,471.01 537.31,472.80 540.21,473.31 538.16,475.42 537.21,478.33 537.63,481.24 534.99,479.94 531.93,479.94 529.28,481.24 529.70,478.33 528.76,475.42 526.70,473.31 529.61,472.80" fill="#77772e"/><polygon points="533.46,471.20 537.55,474.17 535.98,478.98 530.93,478.98 529.37,474.17" fill="#b9b83e"/><polygon points="608.65,471.01 610.02,468.40 611.40,471.01 613.87,472.80 616.78,473.31 614.72,475.42 613.78,478.33 614.20,481.24 611.55,479.94 608.49,479.94 605.85,481.24 606.27,478.33 605.32,475.42 603.27,473.31 606.17,472.80" fill="#77772e"/><polygon points="610.02,471.20 614.11,474.17 612.55,478.98 607.50,478.98 605.93,474.17" fill="#b9b83e"/><polygon points="685.27,471.01 686.64,468.40 688.02,471.01 690.49,472.80 693.40,473.31 691.34,475.42 690.40,478.33 690.82,481.24 688.17,479.94 685.11,479.94 682.47,481.24 682.89,478.33 681.94,475.42 679.89,473.31 682.79,472.80" fill="#77772e"/><polygon points="686.64,471.20 690.73,474.17 689.17,478.98 684.12,478.98 682.55,474.17" fill="#b9b83e"/><polygon points="114.52,485.01 115.90,482.40 117.27,485.01 119.75,486.80 122.65,487.31 120.60,489.42 119.65,492.33 120.07,495.24 117.43,493.94 114.37,493.94 111.73,495.24 112.15,492.33 111.20,489.42 109.15,487.31 112.05,486.80" fill="#8a4a1c"/><polygon points="115.90,485.20 119.99,488.17 118.43,492.98 113.37,492.98 111.81,488.17" fill="#e38a2e"/><polygon points="191.04,485.01 192.41,482.40 193.79,485.01 196.26,486.80 199.17,487.31 197.11,489.42 196.17,492.33 196.59,495.24 193.94,493.94 190.88,493.94 188.24,495.24 188.66,492.33 187.71,489.42 185.66,487.31 188.56,486.80" fill="#8a4a1c"/><polygon points="192.41,485.20 196.50,488.17 194.94,492.98 189.89,492.98 188.32,488.17" fill="#e38a2e"/><polygon points="267.55,485.01 268.93,482.40 270.30,485.01 272.78,486.80 275.68,487.31 273.63,489.42 272.68,492.33 273.10,495.24 270.46,493.94 267.40,493.94 264.75,495.24 265.17,492.33 264.23,489.42 262.17,487.31 265.08,486.80" fill="#8a4a1c"/><polygon points="268.93,485.20 273.02,488.17 271.45,492.98 266.40,492.98 264.84,488.17" fill="#e38a2e"/><polygon points="344.07,485.01 345.44,482.40 346.81,485.01 349.29,486.80 352.19,487.31 350.14,489.42 349.19,492.33 349.61,495.24 346.97,493.94 343.91,493.94 341.27,495.24 341.69,492.33 340.74,489.42 338.69,487.31 341.59,486.80" fill="#8a4a1c"/><polygon points="345.44,485.20 349.53,488.17 347.97,492.98 342.91,492.98 341.35,488.17" fill="#e38a2e"/><polygon points="420.58,485.01 421.95,482.40 423.33,485.01 425.80,486.80 428.71,487.31 426.65,489.42 425.71,492.33 426.13,495.24 423.48,493.94 420.42,493.94 417.78,495.24 418.20,492.33 417.26,489.42 415.20,487.31 418.10,486.80" fill="#8a4a1c"/><polygon points="421.95,485.20 426.04,488.17 424.48,492.98 419.43,492.98 417.87,488.17" fill="#e38a2e"/><polygon points="497.09,485.01 498.47,482.40 499.84,485.01 502.32,486.80 505.22,487.31 503.17,489.42 502.22,492.33 502.64,495.24 500.00,493.94 496.94,493.94 494.30,495.24 494.72,492.33 493.77,489.42 491.72,487.31 494.62,486.80" fill="#8a4a1c"/><polygon points="498.47,485.20 502.56,488.17 501.00,492.98 495.94,492.98 494.38,488.17" fill="#e38a2e"/><polygon points="573.61,485.01 574.98,482.40 576.36,485.01 578.83,486.80 581.74,487.31 579.68,489.42 578.74,492.33 579.16,495.24 576.51,493.94 573.45,493.94 570.81,495.24 571.23,492.33 570.28,489.42 568.23,487.31 571.13,486.80" fill="#8a4a1c"/><polygon points="574.98,485.20 579.07,488.17 577.51,492.98 572.46,492.98 570.89,488.17" fill="#e38a2e"/><polygon points="650.12,485.01 651.50,482.40 652.87,485.01 655.35,486.80 658.25,487.31 656.20,489.42 655.25,492.33 655.67,495.24 653.03,493.94 649.97,493.94 647.32,495.24 647.74,492.33 646.80,489.42 644.74,487.31 647.65,486.80" fill="#8a4a1c"/><polygon points="651.50,485.20 655.59,488.17 654.02,492.98 648.97,492.98 647.41,488.17" fill="#e38a2e"/><circle cx="139.61" cy="502.90" r="4.85" fill="#ffffc0" stroke="#8a8a7a" stroke-width="1"/><circle cx="219.48" cy="502.90" r="4.85" fill="#ffffc0" stroke="#8a8a7a" stroke-width="1"/><circle cx="299.45" cy="502.90" r="4.85" fill="#ffffc0" stroke="#8a8a7a" stroke-width="1"/><circle cx="379.42" cy="502.90" r="4.85" fill="#ffffc0" stroke="#8a8a7a" stroke-width="1"/><circle cx="459.33" cy="502.90" r="4.85" fill="#ffffc0" stroke="#8a8a7a" stroke-width="1"/><circle cx="539.20" cy="502.90" r="4.85" fill="#ffffc0" stroke="#8a8a7a" stroke-width="1"/><circle cx="618.90" cy="502.90" r="4.85" fill="#ffffc0" stroke="#8a8a7a" stroke-width="1"/><circle cx="698.50" cy="502.90" r="4.85" fill="#ffffc0" stroke="#8a8a7a" stroke-width="1"/><circle cx="184.60" cy="516.50" r="4.85" fill="#cdcdb4" stroke="#787870" stroke-width="1"/><circle cx="264.14" cy="516.50" r="4.85" fill="#cdcdb4" stroke="#787870" stroke-width="1"/><circle cx="343.37" cy="516.50" r="4.85" fill="#cdcdb4" stroke="#787870" stroke-width="1"/><circle cx="422.33" cy="516.50" r="4.85" fill="#cdcdb4" stroke="#787870" stroke-width="1"/><circle cx="501.07" cy="516.50" r="4.85" fill="#cdcdb4" stroke="#787870" stroke-width="1"/><circle cx="579.72" cy="516.50" r="4.85" fill="#cdcdb4" stroke="#787870" stroke-width="1"/><circle cx="658.20" cy="516.50" r="4.85" fill="#cdcdb4" stroke="#787870" stroke-width="1"/><g font-size="9.5" fill="#1a1a1a" stroke="#1a1a1a" stroke-width="0.2"><text x="157.3" y="480.0" transform="matrix(1 0 0 1.100 0 -48.000)">6:54am</text><text x="233.9" y="480.0" transform="matrix(1 0 0 1.100 0 -48.000)">6:55am</text><text x="310.4" y="480.0" transform="matrix(1 0 0 1.100 0 -48.000)">6:55am</text><text x="387.1" y="480.0" transform="matrix(1 0 0 1.100 0 -48.000)">6:56am</text><text x="463.6" y="480.0" transform="matrix(1 0 0 1.100 0 -48.000)">6:56am</text><text x="540.3" y="480.0" transform="matrix(1 0 0 1.100 0 -48.000)">6:57am</text><text x="616.8" y="480.0" transform="matrix(1 0 0 1.100 0 -48.000)">6:57am</text><text x="693.4" y="480.0" transform="matrix(1 0 0 1.100 0 -48.000)">6:58am</text><text x="122.7" y="493.6" transform="matrix(1 0 0 1.100 0 -49.360)">8:04pm</text><text x="199.2" y="493.6" transform="matrix(1 0 0 1.100 0 -49.360)">8:03pm</text><text x="275.7" y="493.6" transform="matrix(1 0 0 1.100 0 -49.360)">8:02pm</text><text x="352.2" y="493.6" transform="matrix(1 0 0 1.100 0 -49.360)">8:01pm</text><text x="428.8" y="493.6" transform="matrix(1 0 0 1.100 0 -49.360)">8:00pm</text><text x="505.3" y="493.6" transform="matrix(1 0 0 1.100 0 -49.360)">7:59pm</text><text x="581.8" y="493.6" transform="matrix(1 0 0 1.100 0 -49.360)">7:58pm</text><text x="658.3" y="493.6" transform="matrix(1 0 0 1.100 0 -49.360)">7:57pm</text><text x="146.7" y="506.8" transform="matrix(1 0 0 1.100 0 -50.680)">3:30am</text><text x="226.6" y="506.8" transform="matrix(1 0 0 1.100 0 -50.680)">4:32am</text><text x="306.5" y="506.8" transform="matrix(1 0 0 1.100 0 -50.680)">5:36am</text><text x="386.5" y="506.8" transform="matrix(1 0 0 1.100 0 -50.680)">6:40am</text><text x="466.4" y="506.8" transform="matrix(1 0 0 1.100 0 -50.680)">7:43am</text><text x="546.3" y="506.8" transform="matrix(1 0 0 1.100 0 -50.680)">8:45am</text><text x="626.0" y="506.8" transform="matrix(1 0 0 1.100 0 -50.680)">9:44am</text><text x="705.6" y="506.8" transform="matrix(1 0 0 1.100 0 -50.680)">10:41am</text><text x="191.7" y="520.6" transform="matrix(1 0 0 1.100 0 -52.060)">5:36pm</text><text x="271.2" y="520.6" transform="matrix(1 0 0 1.100 0 -52.060)">6:32pm</text><text x="350.5" y="520.6" transform="matrix(1 0 0 1.100 0 -52.060)">7:22pm</text><text x="429.4" y="520.6" transform="matrix(1 0 0 1.100 0 -52.060)">8:07pm</text><text x="508.2" y="520.6" transform="matrix(1 0 0 1.100 0 -52.060)">8:48pm</text><text x="586.8" y="520.6" transform="matrix(1 0 0 1.100 0 -52.060)">9:27pm</text><text x="665.3" y="520.6" transform="matrix(1 0 0 1.100 0 -52.060)">10:03pm</text></g><g font-size="9.5" fill="#1a1a1a" stroke="#1a1a1a" stroke-width="0.2"><text x="401.3" y="533.4" text-anchor="end" transform="matrix(1 0 0 1.100 0 -53.340)">New Moon</text><text x="403.2" y="534.4" transform="matrix(1 0 0 1.100 0 -53.440)">| 2:31pm</text></g></svg></body></html>
